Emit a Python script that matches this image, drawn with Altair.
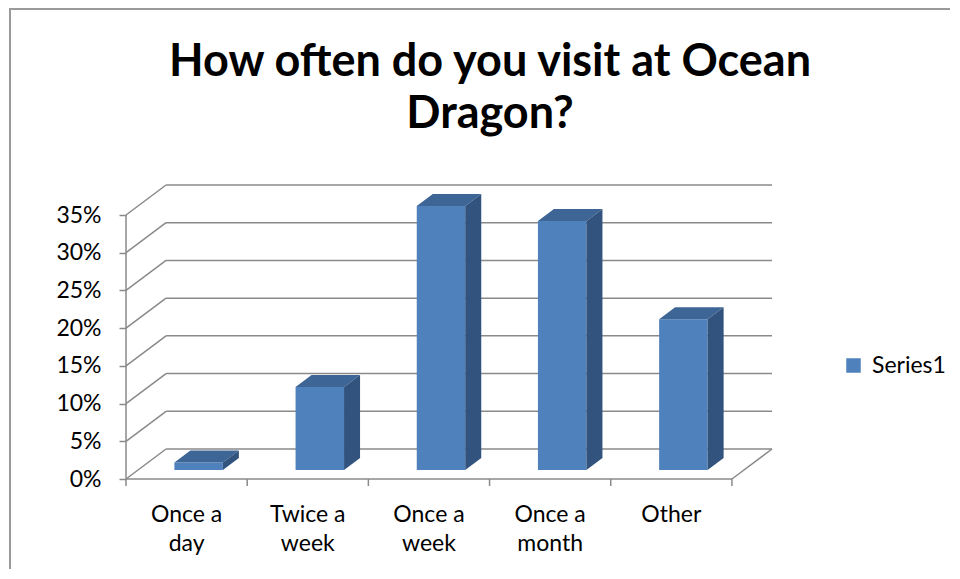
import altair as alt
import pandas as pd

# ---------------- data ----------------
categories = ["Once a day", "Twice a week", "Once a week", "Once a month", "Other"]
category_labels = ["Once a\nday", "Twice a\nweek", "Once a\nweek", "Once a\nmonth", "Other"]
values = [1, 11, 35, 33, 20]          # percent
y_ticks = [0, 5, 10, 15, 20, 25, 30, 35]
series_name = "Series1"
title_text = "How often do you visit at Ocean\nDragon?"

# ---------------- 3D-look geometry (style constants) ----------------
W, H = 646, 294
N = len(categories)
DX = 40 / 121            # depth shift, in category units
DY = 30 / (264 / 35)     # depth shift, in percent units
F0, F1 = 0.3, 0.7        # bar depth span (fraction of wall depth)
BL, BR = 0.3, 0.7        # bar extent inside its category
X_MAX = N + DX
Y_MAX = max(y_ticks) + DY

FRONT = "#4F81BD"
TOP = "#3D6696"
SIDE = "#31537E"
GRID = "#8A8A8A"
FONT = "Lato"
LBL = 23

xs = alt.Scale(domain=[0, X_MAX], nice=False, zero=False)
ys = alt.Scale(domain=[0, Y_MAX], nice=False, zero=False)
yaxis = alt.Axis(
    values=y_ticks, labelExpr="datum.value + '%'", title=None,
    domain=False, grid=False, tickSize=7, tickColor=GRID, tickWidth=1.5,
    labelFont=FONT, labelFontSize=LBL, labelColor="#000000", labelPadding=18)

# front faces
front = pd.DataFrame({
    "cat": categories,
    "series": series_name,
    "x": [i + BL + F0 * DX for i in range(N)],
    "x2": [i + BR + F0 * DX for i in range(N)],
    "y": [F0 * DY] * N,
    "y2": [v + F0 * DY for v in values],
})

# top faces / side faces (areas -> parallelograms)
top_rows = []
side_rows = []
for i, (c, v) in enumerate(zip(categories, values)):
    for f in (F0, F1):
        top_rows.append({"cat": c, "y": v + f * DY,
                         "x": i + BL + f * DX, "x2": i + BR + f * DX})
        side_rows.append({"cat": c, "x": i + BR + f * DX,
                          "y": f * DY, "y2": v + f * DY})
top_df = pd.DataFrame(top_rows)
side_df = pd.DataFrame(side_rows)

# walls
back_grid = pd.DataFrame({"x": DX, "x2": N + DX, "y": [t + DY for t in y_ticks]})
side_grid = pd.DataFrame({"x": 0.0, "x2": DX, "y": y_ticks, "y2": [t + DY for t in y_ticks]})
floor_edges = pd.DataFrame({"x": [0.0, float(N), 0.0], "x2": [float(N), N + DX, 0.0],
                            "y": [0.0, 0.0, 0.0], "y2": [0.0, DY, float(max(y_ticks))]})
x_ticks = pd.DataFrame({"x": [float(i) for i in range(N + 1)]})
labels_df = pd.DataFrame({"x": [i + 0.5 for i in range(N)], "label": category_labels})
one = pd.DataFrame({"t": [title_text]})


def X(f="x:Q"):
    return alt.X(f, scale=xs, axis=None)


def Y(f="y:Q"):
    return alt.Y(f, scale=ys, axis=yaxis)


grid_back = alt.Chart(back_grid).mark_rule(color=GRID, strokeWidth=1.5).encode(
    x=X(), x2="x2:Q", y=Y())

grid_side = alt.Chart(side_grid).mark_rule(color=GRID, strokeWidth=1.5).encode(
    x=X(), x2="x2:Q", y=Y(), y2="y2:Q")

edges = alt.Chart(floor_edges).mark_rule(color=GRID, strokeWidth=1.5).encode(
    x=X(), x2="x2:Q", y=Y(), y2="y2:Q")

xticks = alt.Chart(x_ticks).mark_rule(color=GRID, strokeWidth=1.5).encode(
    x=X(), y=alt.value(H), y2=alt.value(H + 7))

front_bars = alt.Chart(front).mark_rect().encode(
    x=X(), x2="x2:Q", y=Y(), y2="y2:Q",
    color=alt.Color("series:N", scale=alt.Scale(range=[FRONT]), legend=alt.Legend(
        title=None, orient="none", legendX=716, legendY=169, symbolType="square",
        symbolSize=210, symbolStrokeWidth=0, labelFont=FONT, labelFontSize=LBL,
        labelColor="#000000", labelOffset=7)),
)

top_faces = alt.Chart(top_df).mark_area(orient="horizontal", color=TOP).encode(
    y=Y(), x=X(), x2="x2:Q", detail="cat:N")

side_faces = alt.Chart(side_df).mark_area(orient="vertical", color=SIDE).encode(
    x=X(), y=Y(), y2="y2:Q", detail="cat:N")

xlabels = alt.Chart(labels_df).mark_text(
    font=FONT, fontSize=LBL, color="#000000", lineBreak="\n", lineHeight=29,
    baseline="alphabetic", align="center").encode(
    x=X(), y=alt.value(H + 43), text="label:N")

title_mark = alt.Chart(one).mark_text(
    font=FONT, fontSize=45, fontWeight="bold", color="#000000", lineBreak="\n",
    lineHeight=52, baseline="alphabetic", align="center").encode(
    x=alt.value(364), y=alt.value(-109), text="t:N")

frame_left = alt.Chart(one).mark_rule(color="#9A9A9A", strokeWidth=2).encode(
    x=alt.value(-116), y=alt.value(-176), y2=alt.value(H + 120))
frame_top = alt.Chart(one).mark_rule(color="#9A9A9A", strokeWidth=2).encode(
    x=alt.value(-117), x2=alt.value(W + 200), y=alt.value(-176))

chart = alt.layer(
    frame_left, frame_top, grid_back, grid_side, edges, xticks,
    front_bars, top_faces, side_faces, xlabels, title_mark
).properties(
    width=W, height=H,
    padding={"left": 118, "top": 177, "right": 178, "bottom": 90},
    autosize=alt.AutoSizeParams(type="none"),
    background="white",
).configure_view(stroke=None)

chart.save("out.html", embed_options={"renderer": "svg", "actions": False})
